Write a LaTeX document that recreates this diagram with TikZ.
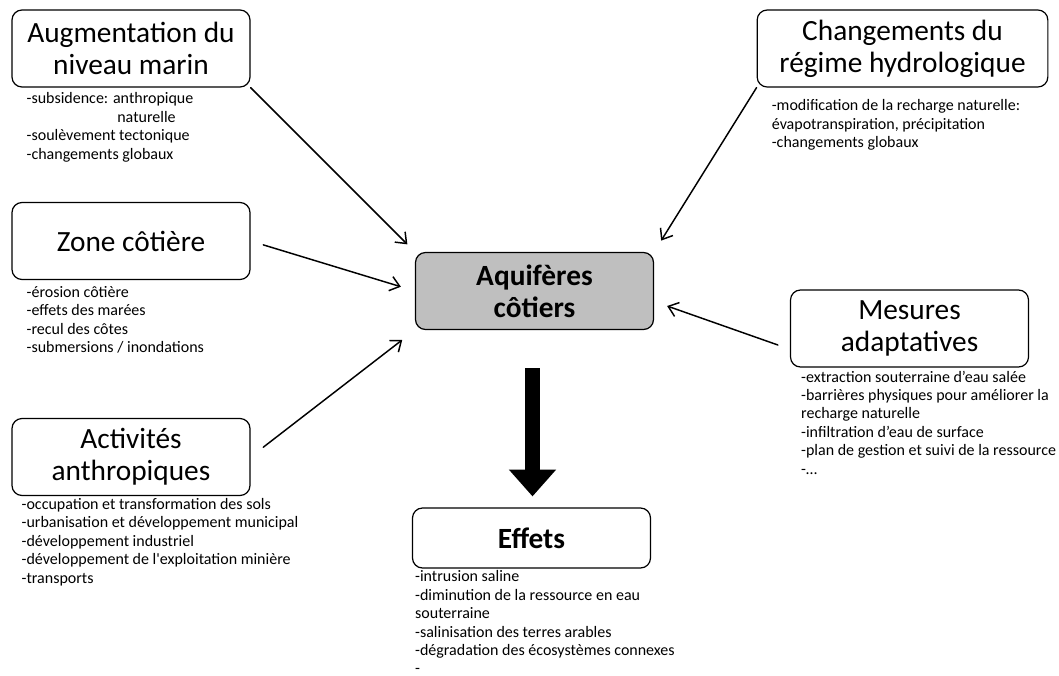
\documentclass[tikz,border=0pt]{standalone}
\usepackage{fontspec}
\setmainfont{Carlito}
\usetikzlibrary{arrows.meta,calc,positioning}
\definecolor{aquigris}{HTML}{BFBFBF}

\tikzset{
  boite/.style={draw, rounded corners=7.5pt, line width=0.9pt, align=center,
    minimum width=178.5pt, minimum height=57.75pt, inner sep=2pt,
    font=\fontsize{22}{24}\selectfont},
  liste/.style={anchor=north west, align=left, inner sep=0pt,
    font=\fontsize{12}{13.8}\selectfont},
  fleche/.style={-{Straight Barb[length=7pt,width=11pt]}, line width=1.1pt}
}

\begin{document}
\begin{tikzpicture}[line cap=round, line join=round, x=0.75pt, y=-0.75pt]
  \useasboundingbox (0,0) rectangle (1059,675);
  % boxes round the central aquifer box
  \node[boite] (niveau) at (131,48.5) {Augmentation du\\niveau marin};
  \node[boite, minimum width=218pt] (regime) at (902.5,48.5) {Changements du\\régime hydrologique};
  \node[boite] (zone) at (131,241) {Zone côtière};
  \node[boite, fill=aquigris, font=\fontsize{22}{24}\selectfont\bfseries] (aquif) at (534.5,291) {Aquifères\\côtiers};
  \node[boite] (mesures) at (909.5,328.5) {Mesures\\adaptatives};
  \node[boite] (activ) at (131,457) {Activités\\anthropiques};
  \node[boite, minimum height=45pt, font=\fontsize{22}{24}\selectfont\bfseries] (effets) at (531.5,538) {Effets};

  % lists under the boxes
  \node[liste] (niveauL) at ($(niveau.south west)+(15,5)$) {-subsidence: anthropique\\\hspace*{68pt}naturelle\\-soulèvement tectonique\\-changements globaux};
  \node[liste] (regimeL) at ($(regime.south west)+(15,12)$) {-modification de la recharge naturelle:\\évapotranspiration, précipitation\\-changements globaux};
  \node[liste] (zoneL) at ($(zone.south west)+(15,6)$) {-érosion côtière\\-effets des marées\\-recul des côtes\\-submersions / inondations};
  \node[liste] (mesuresL) at ($(mesures.south west)+(11,3)$) {-extraction souterraine d’eau salée\\-barrières physiques pour améliorer la\\recharge naturelle\\-infiltration d’eau de surface\\-plan de gestion et suivi de la ressource\\-\dots};
  \node[liste] (activL) at ($(activ.south west)+(10,2)$) {-occupation et transformation des sols\\-urbanisation et développement municipal\\-développement industriel\\-développement de l\textquotesingle exploitation minière\\-transports};
  \node[liste] (effetsL) at ($(effets.south west)+(3,2)$) {-intrusion saline\\-diminution de la ressource en eau\\souterraine\\-salinisation des terres arables\\-dégradation des écosystèmes connexes\\-};

  % arrows towards the aquifer
  \draw[fleche, shorten >=8] (niveau.south east) -- (aquif.north west);
  \draw[fleche, shorten >=10] (regime.south west) -- (aquif.north east);
  \draw[fleche, shorten <=10, shorten >=11] (zone.east) -- (aquif.west);
  \draw[fleche, shorten <=12, shorten >=12] (activ.east) -- (aquif.south west);
  \draw[fleche] ($(mesures.west)+(-12,16.5)$) -- ($(aquif.east)+(13,15)$);
  % big arrow down to the effects
  \draw[line width=11.25pt, line cap=butt, -{Triangle[length=20pt,width=34pt]}]
    ($(aquif.south)+(-2,38)$) -- ($(effets.north)+(1,-11)$);
\end{tikzpicture}
\end{document}
